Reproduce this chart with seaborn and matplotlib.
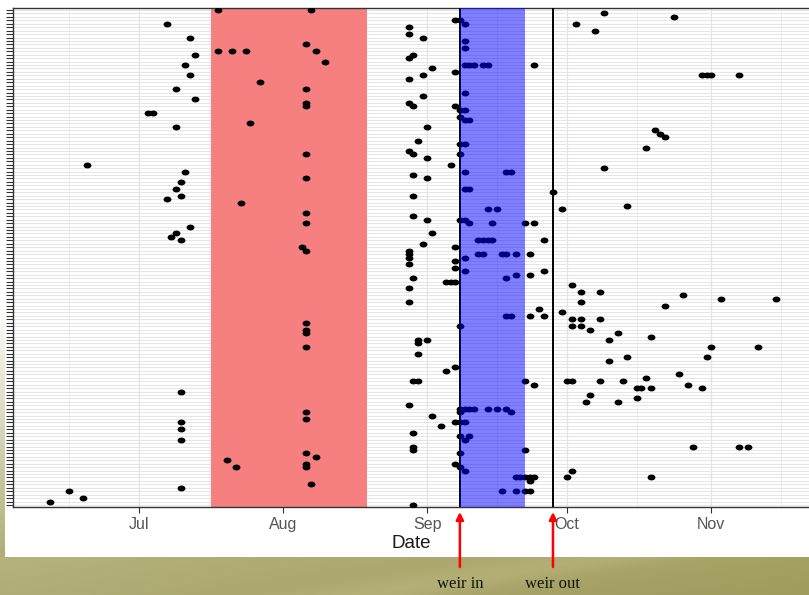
import numpy as np
import pandas as pd
import matplotlib
matplotlib.use("Agg")
import matplotlib.pyplot as plt
import matplotlib.dates as mdates
import matplotlib.transforms as mtrans
from matplotlib.path import Path
import seaborn as sns

YEAR = 2013
N_FISH = 145

# ---- detections: (date "MM-DD", fish id) grouped by period ----
early_dates = ["06-12", "06-16", "06-19", "06-20", "07-07", "07-12", "07-13", "07-11", "07-12", "07-09",
               "07-13", "07-03", "07-04", "07-09", "07-11", "07-10", "07-09", "07-07", "07-10", "07-12",
               "07-09", "07-08", "07-10", "07-10", "07-10", "07-10", "07-10", "07-10"]
early_fish = [2, 5, 3, 100, 141, 137, 132, 129, 126, 122,
              119, 115, 115, 111, 98, 95, 93, 90, 91, 82,
              80, 79, 78, 34, 25, 23, 20, 6]

summer_dates = ["07-18", "08-07", "07-18", "07-21", "07-24", "07-27", "08-06", "08-08", "08-10", "08-06",
                "08-06", "08-06", "07-25", "08-06", "08-06", "07-23", "08-06", "08-06", "08-05", "08-06",
                "08-06", "08-06", "08-06", "08-06", "08-06", "08-06", "08-06", "08-08", "08-06", "08-06",
                "07-20", "07-22", "08-07"]
summer_fish = [145, 145, 133, 133, 133, 124, 135, 133, 130, 122,
               118, 117, 112, 103, 96, 89, 86, 83, 76, 75,
               54, 52, 51, 47, 28, 26, 16, 15, 13, 12,
               14, 12, 7]

preweir_dates = ["09-07", "08-28", "08-28", "08-31", "08-29", "08-28", "09-02", "09-07", "08-31", "08-28",
                 "08-31", "08-28", "08-29", "09-07", "09-01", "08-30", "08-28", "08-29", "09-01", "09-06",
                 "08-29", "09-01", "08-29", "08-29", "09-01", "09-02", "08-31", "09-07", "08-28", "08-28",
                 "08-28", "08-28", "09-07", "09-07", "08-29", "09-05", "09-06", "09-07", "08-28", "08-28",
                 "08-30", "08-30", "09-01", "08-30", "09-07", "09-05", "08-29", "08-30", "08-28", "09-02",
                 "09-04", "09-07", "08-29", "08-29", "08-29", "09-07", "08-29"]
preweir_fish = [142, 140, 138, 137, 132, 131, 128, 127, 126, 125,
                120, 118, 117, 117, 111, 107, 104, 103, 102, 100,
                97, 96, 91, 85, 84, 80, 77, 76, 75, 74,
                73, 71, 72, 70, 67, 66, 66, 66, 64, 60,
                49, 48, 49, 45, 41, 40, 37, 37, 30, 27,
                24, 25, 22, 17, 18, 13, 1]

weir_dates = ["09-08", "09-09", "09-09", "09-09", "09-09", "09-10", "09-11", "09-13", "09-14", "09-24",
              "09-09", "09-08", "09-09", "09-08", "09-09", "09-10", "09-08", "09-09", "09-08", "09-09",
              "09-18", "09-19", "09-09", "09-10", "09-14", "09-16", "09-08", "09-09", "09-10", "09-15",
              "09-22", "09-24", "09-12", "09-13", "09-14", "09-15", "09-26", "09-09", "09-12", "09-13",
              "09-17", "09-18", "09-20", "09-23", "09-09", "09-20", "09-18", "09-23", "09-26", "09-18",
              "09-19", "09-23", "09-25", "09-26", "09-08", "09-22", "09-24", "09-08", "09-09", "09-10",
              "09-11", "09-14", "09-16", "09-18", "09-19", "09-08", "09-08", "09-09", "09-08", "09-09",
              "09-10", "09-22", "09-08", "09-08", "09-09", "09-20", "09-21", "09-22", "09-23", "09-24",
              "09-23", "09-17", "09-20", "09-22", "09-23", "09-28", "09-30"]
weir_fish = [142, 141, 136, 134, 129, 129, 129, 129, 129, 129,
             121, 116, 116, 114, 113, 113, 106, 106, 103, 98,
             98, 98, 93, 93, 87, 87, 84, 84, 83, 83,
             83, 83, 78, 78, 78, 78, 78, 73, 74, 74,
             74, 74, 74, 74, 69, 68, 67, 68, 69, 56,
             56, 56, 58, 56, 53, 37, 36, 29, 29, 29,
             29, 29, 29, 29, 28, 28, 25, 25, 21, 20,
             21, 17, 16, 12, 11, 9, 9, 9, 9, 9,
             8, 5, 5, 5, 5, 92, 87]

late_dates = ["10-09", "10-24", "10-03", "10-07", "10-30", "10-31", "11-01", "11-07", "10-20", "10-21",
              "10-22", "10-18", "10-09", "10-14", "10-02", "10-04", "10-08", "10-26", "11-03", "11-15",
              "10-04", "10-22", "09-30", "10-02", "10-04", "10-08", "10-02", "10-04", "10-06", "10-12",
              "10-10", "10-19", "11-01", "11-11", "10-14", "10-31", "10-10", "10-01", "10-02", "10-08",
              "10-13", "10-18", "10-25", "10-27", "10-16", "10-17", "10-19", "10-30", "10-06", "10-05",
              "10-12", "10-16", "10-28", "11-07", "11-09", "10-01", "10-02", "10-19"]
late_fish = [144, 143, 141, 139, 126, 126, 126, 126, 110, 109,
             108, 105, 99, 88, 65, 63, 63, 62, 61, 61,
             60, 59, 57, 55, 55, 55, 53, 53, 52, 51,
             49, 50, 47, 47, 44, 44, 43, 37, 37, 37,
             37, 38, 39, 36, 35, 35, 35, 35, 33, 31,
             31, 32, 18, 18, 18, 9, 11, 9]

# ---- periods / events ----
red_period = ["07-16", "08-19"]
weir_in = "09-08"
blue_end = "09-22"
weir_out = "09-28"
x_range = ["06-04", "11-22"]
event_labels = ["weir in", "weir out"]


def to_num(md):
    return mdates.date2num(pd.Timestamp(f"{YEAR}-{md}"))


all_dates = early_dates + summer_dates + preweir_dates + weir_dates + late_dates
all_fish = early_fish + summer_fish + preweir_fish + weir_fish + late_fish
df = pd.DataFrame({"Date": pd.to_datetime([f"{YEAR}-{d}" for d in all_dates]),
                   "Fish": all_fish})

sns.set_theme(style="white")
plt.rcParams["font.family"] = ["Liberation Sans", "DejaVu Sans"]

W, H = 809, 595
fig = plt.figure(figsize=(W / 100, H / 100), dpi=100, facecolor="white")

# olive slide band at the bottom and faint left strip
band = fig.add_axes([0, 0, 1, 38 / H])
band.set_zorder(-1)
gx = np.linspace(0, 1, 400)
gy = np.linspace(0, 1, 40)
GX, GY = np.meshgrid(gx, gy)
c_left = np.array([176, 173, 118]) / 255
c_right = np.array([160, 155, 95]) / 255
img = (c_left[None, None, :] * (1 - GX[..., None]) + c_right[None, None, :] * GX[..., None])
streak = np.exp(-((GX - 0.45 - 0.3 * GY) ** 2) / 0.01) * 0.04
img = np.clip(img + streak[..., None] + 0.02 * GY[..., None], 0, 1)
band.imshow(img, aspect="auto", origin="lower", extent=[0, 1, 0, 1])
band.set_axis_off()

strip = fig.add_axes([0, 38 / H, 5 / W, (557 - 300) / H])
strip.set_zorder(-1)
sy = np.linspace(0, 1, 100)[:, None, None]
simg = c_left[None, None, :] * (1 - sy) + np.array([1, 1, 1])[None, None, :] * sy
strip.imshow(simg, aspect="auto", origin="lower", extent=[0, 1, 0, 1])
strip.set_axis_off()

# main panel
ax = fig.add_axes([13 / W, 1 - 507 / H, 1 - 13 / W, (507 - 8) / H])
ax.set_facecolor("white")

ell = Path.unit_circle().transformed(mtrans.Affine2D().scale(1.0, 0.75))
sns.scatterplot(data=df, x="Date", y="Fish", marker=ell, s=32, color="black",
                linewidth=0, ax=ax, zorder=3, legend=False)

ax.axvspan(to_num(red_period[0]) + 0.6, to_num(red_period[1]), color="#f6807f", lw=0, zorder=1)
ax.axvline(to_num(weir_in), color="black", lw=1.4, zorder=3.5)
ax.axvspan(to_num(weir_in), to_num(blue_end), color="#0000ff", alpha=0.5, lw=0, zorder=4)
ax.axvline(to_num(weir_out), color="black", lw=1.4, zorder=5)

ax.set_xlim(to_num(x_range[0]), to_num(x_range[1]))
ax.set_ylim(0.4, N_FISH + 0.6)

ax.xaxis.set_major_locator(mdates.MonthLocator())
ax.xaxis.set_major_formatter(mdates.DateFormatter("%b"))
ax.xaxis.set_minor_locator(mdates.MonthLocator(bymonthday=16))
ax.set_yticks(np.arange(1, N_FISH + 1))
ax.set_yticklabels([])

ax.set_axisbelow(True)
ax.grid(which="major", axis="y", color="#e2e2e2", lw=0.6)
ax.grid(which="major", axis="x", color="#e6e6e6", lw=0.9)
ax.grid(which="minor", axis="x", color="#eeeeee", lw=0.6)

ax.tick_params(axis="y", which="major", left=True, length=5, width=0.8, color="#333333")
ax.tick_params(axis="x", which="major", bottom=True, length=4, width=0.8, color="#333333",
               labelsize=11.5, labelcolor="#555555", pad=3)
ax.tick_params(axis="x", which="minor", bottom=False, length=0)

for side in ["left", "bottom", "top"]:
    ax.spines[side].set_visible(True)
    ax.spines[side].set_color("#333333")
    ax.spines[side].set_linewidth(1.0)
ax.spines["right"].set_visible(False)

ax.set_ylabel("")
ax.set_xlabel("Date", fontsize=13.5, color="#1a1a1a", labelpad=2)

# weir annotations below the axis
for md, lab in zip([weir_in, weir_out], event_labels):
    xv = to_num(md)
    ax.annotate("", xy=(xv, 1 - 512 / H), xytext=(xv, 1 - 567 / H),
                xycoords=("data", "figure fraction"), textcoords=("data", "figure fraction"),
                arrowprops=dict(arrowstyle="-|>", color="#ff0000", lw=1.8, mutation_scale=11,
                                shrinkA=0, shrinkB=0),
                annotation_clip=False)
    ax.annotate(lab, xy=(xv, 1 - 584 / H), xycoords=("data", "figure fraction"),
                ha="center", va="center", fontsize=12, family=["Liberation Serif", "DejaVu Serif"],
                color="#111111", annotation_clip=False)

fig.savefig("out.png", dpi=100, facecolor="white")
